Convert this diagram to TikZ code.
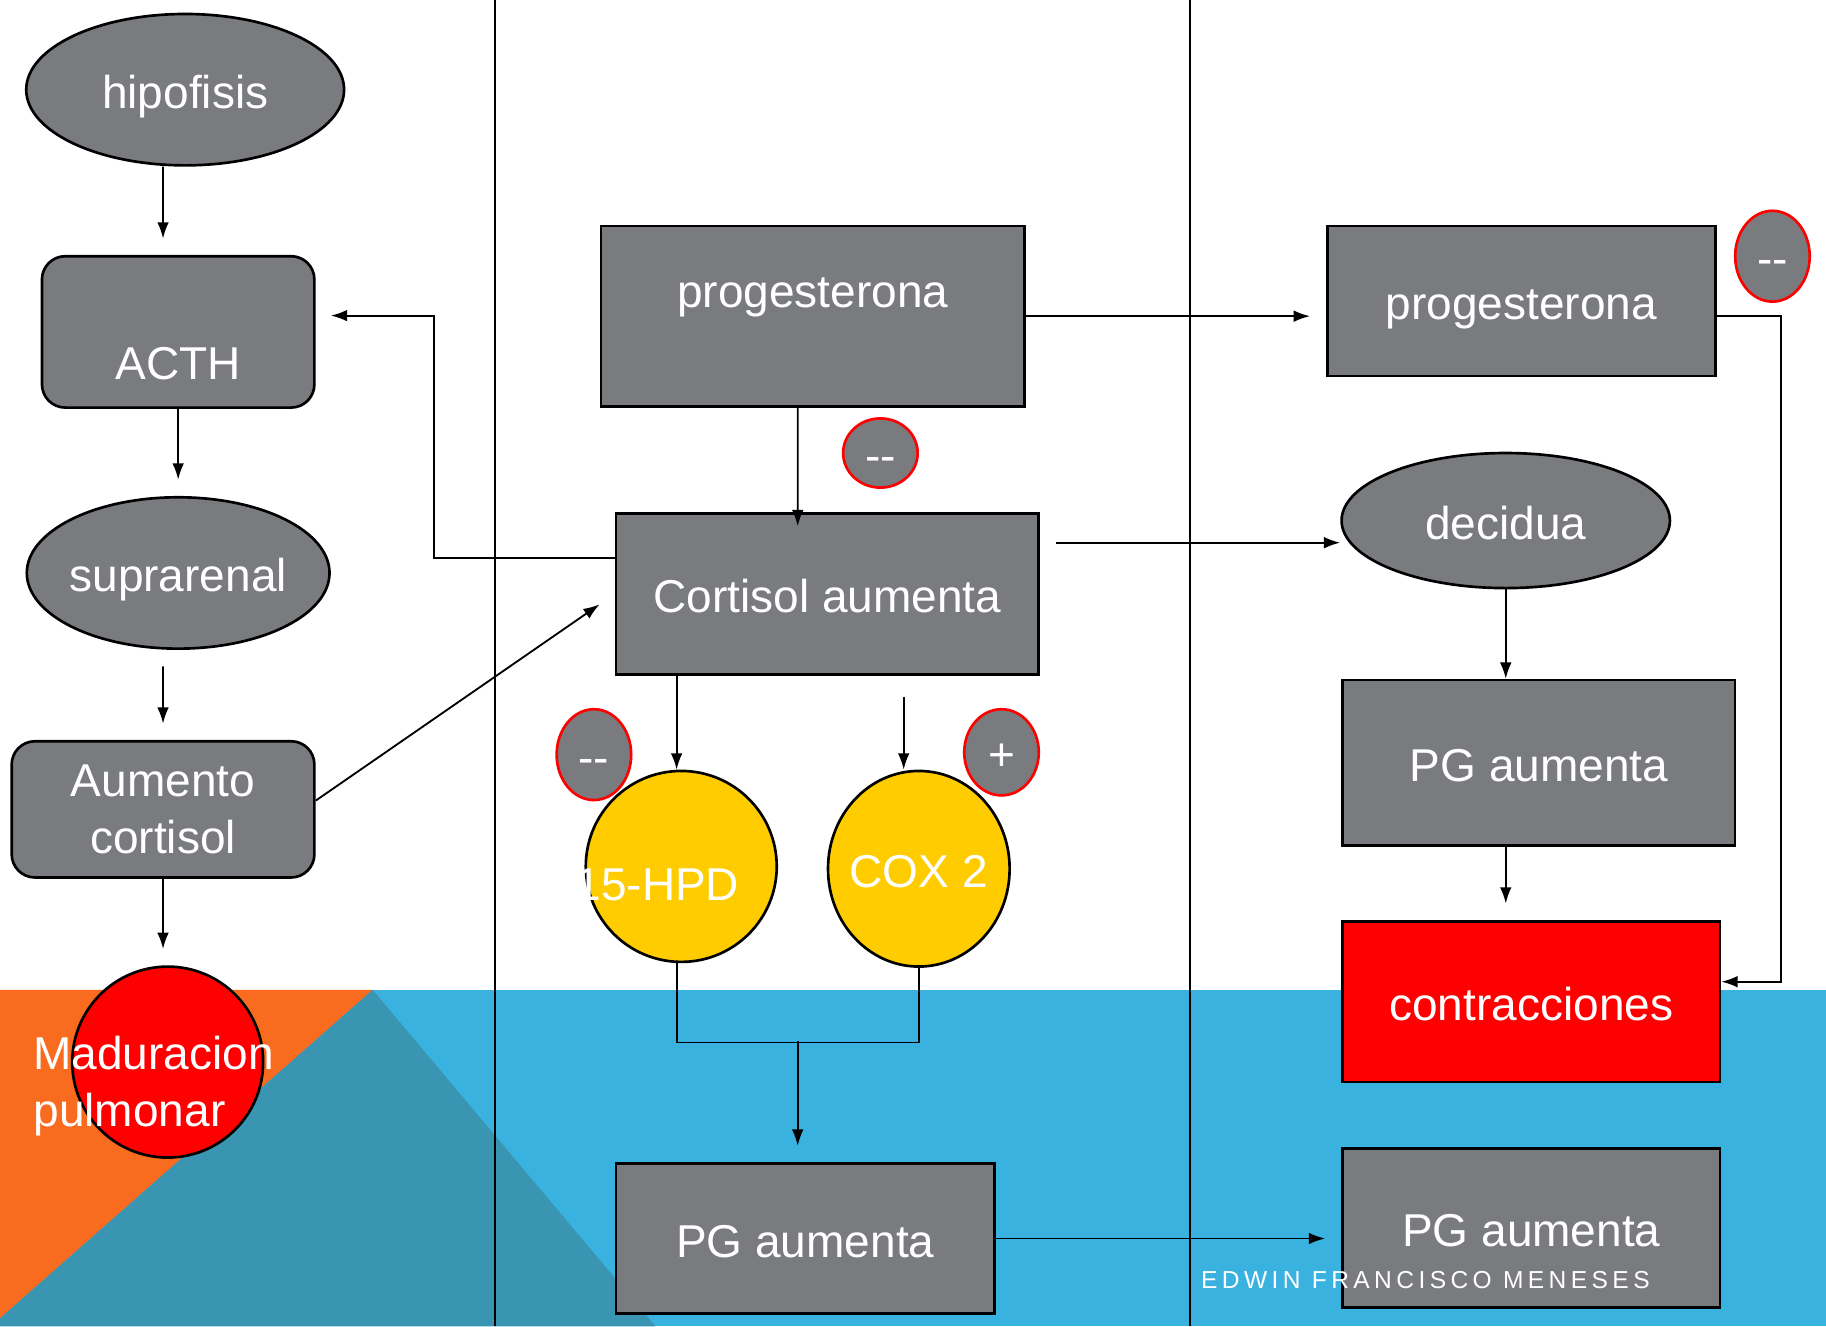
\documentclass[tikz,border=0pt]{standalone}
\usepackage{fontspec}
\setmainfont{Liberation Sans}
\newfontfamily\signfont[LetterSpace=18]{Liberation Sans}
\usetikzlibrary{shapes.geometric, arrows.meta, positioning}
\definecolor{boxgray}{HTML}{7A7B7F}
\definecolor{enzymeyellow}{HTML}{FFCC00}
\definecolor{skyblue}{HTML}{3AB2E0}
\definecolor{deeporange}{HTML}{F96B1E}
\definecolor{tealshade}{HTML}{3A95B3}
\begin{document}
\begin{tikzpicture}[x=0.02cm, y=-0.02cm, >={Latex[length=2.8mm, width=2mm]}, line width=0.9pt,
        every node/.style={text=white, font=\fontsize{22.5}{28}\selectfont, inner sep=0pt},
        node text/.style={text height=0.74cm, text depth=0.1cm},
        gray box/.style={rectangle, draw, line width=1.3pt, fill=boxgray, node text},
        round box/.style={gray box, rounded corners=0.4cm},
        gray oval/.style={ellipse, draw, line width=1.3pt, fill=boxgray, node text},
        sign oval/.style={ellipse, draw=red, line width=1.3pt, fill=boxgray, node text, minimum width=1.28cm, minimum height=1.56cm},
        enzyme/.style={ellipse, draw, line width=1.3pt, fill=enzymeyellow, node text}]
    \useasboundingbox (0,0) rectangle (1568,1139);
    % fondo
    \fill[skyblue] (0,850) rectangle (1568,1139);
    \fill[deeporange] (0,850) -- (320,850) -- (0,1132) -- cycle;
    \fill[tealshade] (320,850) -- (563,1139) -- (0,1139) -- (0,1132) -- cycle;
    \draw[line width=1.2pt] (425,0) -- (425,1139) (1022,0) -- (1022,1139);
    % columna izquierda
    \node[gray oval, minimum width=5.46cm, minimum height=2.6cm] (hip) at (159,77) {hipofisis};
    \node[round box, minimum width=4.68cm, minimum height=2.6cm] (acth) at (153,285) {\raisebox{-0.5cm}[0pt][0pt]{ACTH}};
    \node[gray oval, minimum width=5.2cm, minimum height=2.6cm] (supra) at (153,492) {\makebox[0pt]{suprarenal}};
    \node[round box, text height={}, text depth={}, minimum width=5.2cm, minimum height=2.34cm, align=center] (aum) at (140,695) {Aumento\\cortisol};
    \node[circle, draw, line width=1.3pt, fill=red, node text, minimum size=3.28cm] (mad) at (144,912)
        {\raisebox{0.2cm}[0pt][0pt]{\makebox[0pt]{\hspace{-0.48cm}\begin{tabular}[t]{@{}l@{}}Maduracion\\pulmonar\end{tabular}}}};
    % columna central
    \node[gray box, minimum width=7.28cm, minimum height=3.1cm] (prog1) at (698,271.5) {\raisebox{0.47cm}[0pt][0pt]{progesterona}};
    \node[sign oval, minimum height=1.04cm] (minus1) at (756,389) {-{}-};
    \node[gray box, minimum width=7.26cm, minimum height=2.76cm] (cort) at (710.5,510) {Cortisol aumenta};
    \node[sign oval] (minus2) at (510,648) {-{}-};
    \node[sign oval, minimum height=1.48cm] (plus) at (860,646) {+};
    \node[enzyme, minimum width=3.28cm, minimum height=3.28cm] (hpd) at (585,744)
        {\raisebox{-0.26cm}[0pt][0pt]{\makebox[0pt]{\hspace{-0.82cm}15-HPD}}};
    \node[enzyme, minimum width=3.12cm, minimum height=3.36cm] (cox) at (789,746) {\makebox[0pt]{COX 2}};
    \node[gray box, minimum width=6.5cm, minimum height=2.58cm] (pg1) at (691.5,1063.5) {PG aumenta};
    % columna derecha
    \node[gray box, minimum width=6.66cm, minimum height=2.58cm] (prog2) at (1306.5,258.5) {progesterona};
    \node[sign oval] (minus3) at (1522,220) {-{}-};
    \node[gray oval, minimum width=5.64cm, minimum height=2.32cm] (decidua) at (1293,447) {decidua};
    \node[gray box, minimum width=6.74cm, minimum height=2.84cm] (pg2) at (1321.5,655) {PG aumenta};
    \node[gray box, fill=red, minimum width=6.48cm, minimum height=2.76cm] (contr) at (1315,860) {contracciones};
    \node[gray box, minimum width=6.48cm, minimum height=2.74cm] (pg3) at (1315,1054.5) {PG aumenta};
    \node[font=\signfont\fontsize{12}{14}\selectfont] (author) at (1224,1099) {EDWIN FRANCISCO MENESES};
    % flechas
    \draw[->] ([xshift=-0.38cm]hip.south) -- ([xshift=-0.26cm, yshift=0.28cm]acth.north);
    \draw[->] (acth.south) -- ([yshift=0.28cm]supra.north);
    \draw[->] ([xshift=-0.26cm, yshift=-0.28cm]supra.south) -- ([yshift=0.28cm]aum.north);
    \draw[->] (aum.south) -- ([xshift=-0.08cm, yshift=0.28cm]mad.north);
    \draw[->] ([yshift=0.15cm]aum.east) -- ([xshift=-0.26cm, yshift=-0.18cm]cort.west);
    \draw[->] ([yshift=0.62cm]cort.west) -- ++(-155,0) |- ([xshift=0.26cm, yshift=0.28cm]acth.east);
    \draw[->] ([xshift=-0.26cm]prog1.south) -- ([xshift=-0.51cm, yshift=-0.24cm]cort.north);
    \coordinate (hpdin) at ([xshift=-0.08cm]hpd.north);
    \draw[->] (hpdin |- cort.south) -- (hpdin);
    \coordinate (coxin) at ([xshift=-0.26cm]cox.north);
    \draw[->, shorten <=0.36cm] (coxin |- cort.south) -- (coxin);
    \draw ([xshift=-0.08cm]hpd.south) -- ++(0,68) -| (cox.south);
    \coordinate (join) at (685,894);
    \draw[->, shorten >=0.28cm] (join) -- (join |- pg1.north);
    \draw[->, shorten >=0.28cm] (pg1.east) -- (pg1.east -| pg3.west);
    \draw[->, shorten >=0.28cm] (prog1.east) -- (prog1.east -| prog2.west);
    \coordinate (cortout) at ([yshift=0.88cm]cort.east);
    \draw[->, shorten <=0.28cm] (cortout) -- (cortout -| decidua.west);
    \draw[->] (decidua.south) -- (decidua.south |- pg2.north);
    \draw[->, shorten >=0.28cm] (decidua.south |- pg2.south) -- (decidua.south |- contr.north);
    \draw[->] ([yshift=-0.25cm]prog2.east) -- ++(55,0) |- ([yshift=0.34cm]contr.east);
\end{tikzpicture}
\end{document}
